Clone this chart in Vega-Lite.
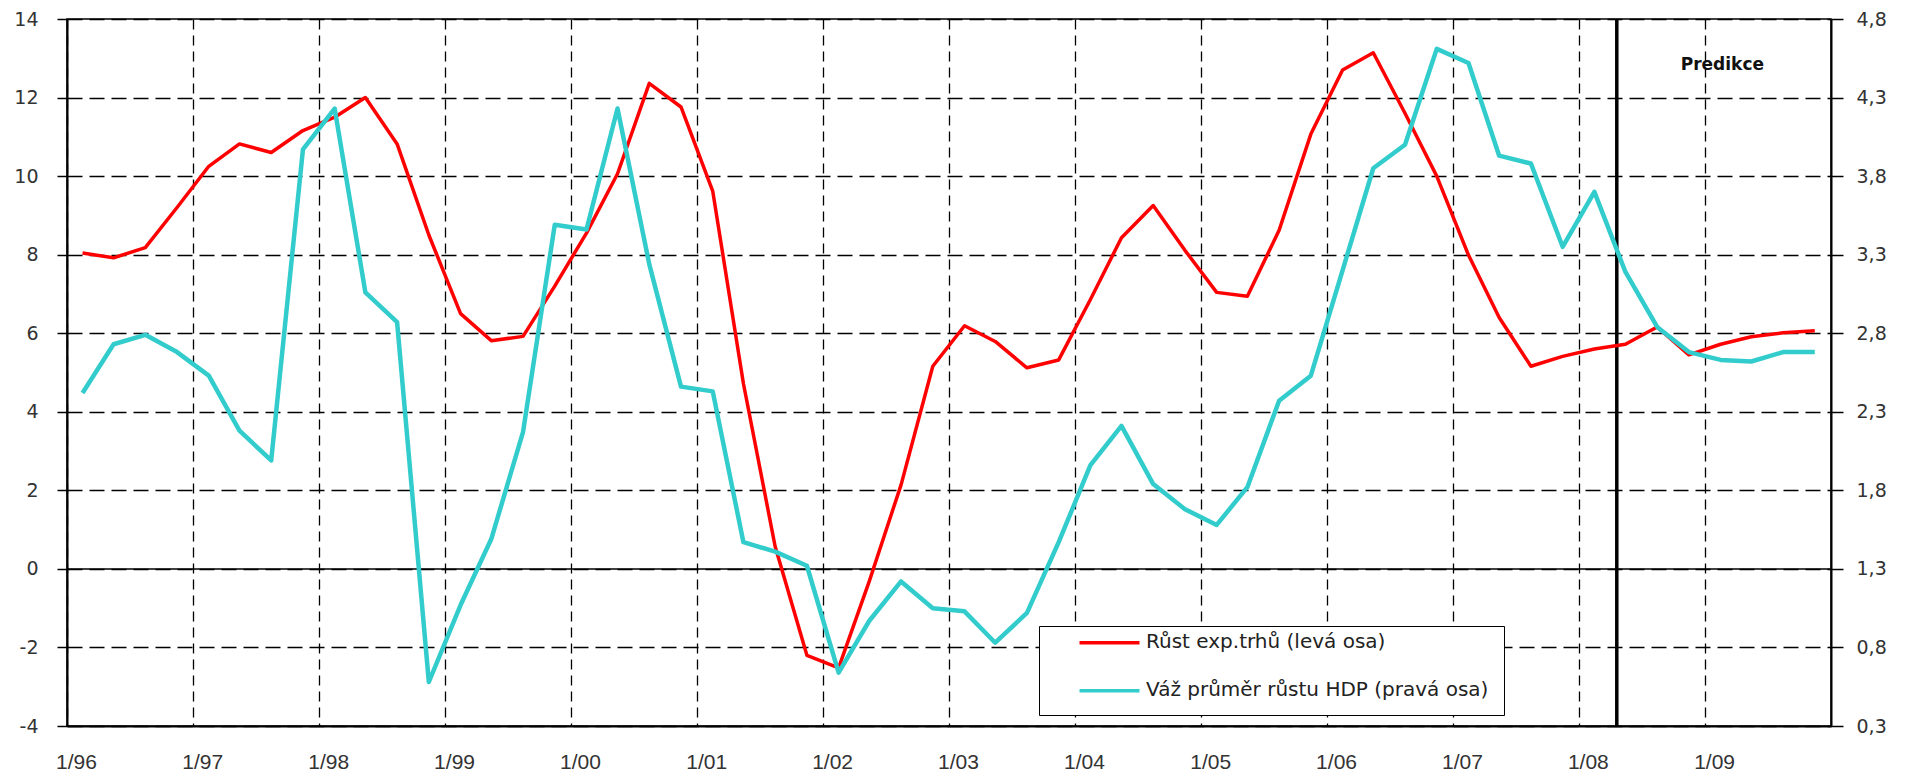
{
  "$schema": "https://vega.github.io/schema/vega-lite/v6.json",
  "width": 1764,
  "height": 707,
  "autosize": {"type": "none"},
  "padding": {"left": 67, "top": 19, "right": 79, "bottom": 48},
  "background": "white",
  "config": {
    "view": {"stroke": "black", "strokeWidth": 1.5},
    "font": "DejaVu Sans"
  },
  "data": {
    "values": [
      {"date": "1996-02-15", "exp": 8.04, "hdp": 2.42},
      {"date": "1996-05-15", "exp": 7.92, "hdp": 2.73},
      {"date": "1996-08-15", "exp": 8.18, "hdp": 2.79},
      {"date": "1996-11-15", "exp": 9.2, "hdp": 2.68},
      {"date": "1997-02-15", "exp": 10.25, "hdp": 2.53},
      {"date": "1997-05-15", "exp": 10.82, "hdp": 2.18},
      {"date": "1997-08-15", "exp": 10.6, "hdp": 1.99},
      {"date": "1997-11-15", "exp": 11.16, "hdp": 3.97},
      {"date": "1998-02-15", "exp": 11.5, "hdp": 4.23},
      {"date": "1998-05-15", "exp": 12.0, "hdp": 3.06},
      {"date": "1998-08-15", "exp": 10.82, "hdp": 2.87},
      {"date": "1998-11-15", "exp": 8.5, "hdp": 0.58},
      {"date": "1999-02-15", "exp": 6.5, "hdp": 1.07},
      {"date": "1999-05-15", "exp": 5.81, "hdp": 1.49},
      {"date": "1999-08-15", "exp": 5.92, "hdp": 2.17},
      {"date": "1999-11-15", "exp": 7.2, "hdp": 3.49},
      {"date": "2000-02-15", "exp": 8.55, "hdp": 3.46},
      {"date": "2000-05-15", "exp": 10.06, "hdp": 4.23},
      {"date": "2000-08-15", "exp": 12.36, "hdp": 3.24},
      {"date": "2000-11-15", "exp": 11.76, "hdp": 2.46},
      {"date": "2001-02-15", "exp": 9.62, "hdp": 2.43},
      {"date": "2001-05-15", "exp": 4.72, "hdp": 1.47},
      {"date": "2001-08-15", "exp": 0.57, "hdp": 1.41},
      {"date": "2001-11-15", "exp": -2.2, "hdp": 1.32},
      {"date": "2002-02-15", "exp": -2.52, "hdp": 0.64},
      {"date": "2002-05-15", "exp": -0.31, "hdp": 0.97},
      {"date": "2002-08-15", "exp": 2.14, "hdp": 1.22},
      {"date": "2002-11-15", "exp": 5.16, "hdp": 1.05},
      {"date": "2003-02-15", "exp": 6.19, "hdp": 1.03},
      {"date": "2003-05-15", "exp": 5.79, "hdp": 0.83},
      {"date": "2003-08-15", "exp": 5.12, "hdp": 1.02},
      {"date": "2003-11-15", "exp": 5.32, "hdp": 1.47},
      {"date": "2004-02-15", "exp": 6.86, "hdp": 1.96},
      {"date": "2004-05-15", "exp": 8.43, "hdp": 2.21},
      {"date": "2004-08-15", "exp": 9.25, "hdp": 1.84},
      {"date": "2004-11-15", "exp": 8.11, "hdp": 1.68},
      {"date": "2005-02-15", "exp": 7.04, "hdp": 1.58},
      {"date": "2005-05-15", "exp": 6.94, "hdp": 1.82},
      {"date": "2005-08-15", "exp": 8.62, "hdp": 2.37},
      {"date": "2005-11-15", "exp": 11.07, "hdp": 2.53},
      {"date": "2006-02-15", "exp": 12.7, "hdp": 3.2},
      {"date": "2006-05-15", "exp": 13.14, "hdp": 3.85},
      {"date": "2006-08-15", "exp": 11.6, "hdp": 4.0},
      {"date": "2006-11-15", "exp": 10.0, "hdp": 4.61},
      {"date": "2007-02-15", "exp": 7.99, "hdp": 4.52},
      {"date": "2007-05-15", "exp": 6.4, "hdp": 3.93},
      {"date": "2007-08-15", "exp": 5.16, "hdp": 3.88},
      {"date": "2007-11-15", "exp": 5.41, "hdp": 3.35},
      {"date": "2008-02-15", "exp": 5.6, "hdp": 3.7},
      {"date": "2008-05-15", "exp": 5.72, "hdp": 3.19},
      {"date": "2008-08-15", "exp": 6.16, "hdp": 2.84},
      {"date": "2008-11-15", "exp": 5.45, "hdp": 2.68},
      {"date": "2009-02-15", "exp": 5.72, "hdp": 2.63},
      {"date": "2009-05-15", "exp": 5.91, "hdp": 2.62},
      {"date": "2009-08-15", "exp": 6.01, "hdp": 2.68},
      {"date": "2009-11-15", "exp": 6.06, "hdp": 2.68}
    ]
  },
  "layer": [
    {
      "layer": [
        {
          "data": {"values": [{}]},
          "mark": {"type": "rule", "color": "black", "strokeWidth": 1.5},
          "encoding": {"y": {"datum": 0, "type": "quantitative"}}
        },
        {
          "data": {"values": [{}]},
          "mark": {"type": "rule", "color": "black", "strokeWidth": 3.5},
          "encoding": {"x": {"datum": {"year": 2008, "month": 4, "date": 20, "utc": true}, "type": "temporal"}}
        },
        {
          "data": {"values": [{}]},
          "mark": {"type": "text", "text": "Predikce", "font": "DejaVu Sans", "fontWeight": "bold", "fontSize": 17, "color": "#111"},
          "encoding": {
            "x": {"datum": {"year": 2009, "month": 2, "date": 20, "utc": true}, "type": "temporal"},
            "y": {"datum": 12.83, "type": "quantitative"}
          }
        },
        {
          "mark": {"type": "line", "strokeWidth": 3.5, "strokeJoin": "round"},
          "encoding": {
            "x": {
              "field": "date",
              "type": "temporal",
              "scale": {"type": "utc", "domain": [{"year": 1996, "month": 1, "date": 1, "utc": true}, {"year": 2010, "month": 1, "date": 1, "utc": true}]},
              "axis": {
                "title": null,
                "values": [
                  {"year": 1996, "month": 1, "date": 1, "utc": true},
                  {"year": 1997, "month": 1, "date": 1, "utc": true},
                  {"year": 1998, "month": 1, "date": 1, "utc": true},
                  {"year": 1999, "month": 1, "date": 1, "utc": true},
                  {"year": 2000, "month": 1, "date": 1, "utc": true},
                  {"year": 2001, "month": 1, "date": 1, "utc": true},
                  {"year": 2002, "month": 1, "date": 1, "utc": true},
                  {"year": 2003, "month": 1, "date": 1, "utc": true},
                  {"year": 2004, "month": 1, "date": 1, "utc": true},
                  {"year": 2005, "month": 1, "date": 1, "utc": true},
                  {"year": 2006, "month": 1, "date": 1, "utc": true},
                  {"year": 2007, "month": 1, "date": 1, "utc": true},
                  {"year": 2008, "month": 1, "date": 1, "utc": true},
                  {"year": 2009, "month": 1, "date": 1, "utc": true}
                ],
                "grid": true,
                "gridColor": "black",
                "gridDash": [10, 6],
                "gridWidth": 1.3,
                "ticks": false,
                "domainColor": "black",
                "domainWidth": 2,
                "labelFont": "Liberation Sans",
                "labelFontSize": 21,
                "labelColor": "#333",
                "labelPadding": 25,
                "labelOffset": 9,
                "labelOverlap": false,
                "labelFlush": false,
                "labelExpr": "'1/' + utcFormat(datum.value, '%y')"
              }
            },
            "y": {
              "field": "exp",
              "type": "quantitative",
              "scale": {"domain": [-4, 14], "nice": false, "zero": false},
              "axis": {
                "title": null,
                "values": [-4, -2, 0, 2, 4, 6, 8, 10, 12, 14],
                "grid": true,
                "gridColor": "black",
                "gridDash": [15, 7],
                "gridWidth": 1.3,
                "domainColor": "black",
                "domainWidth": 2,
                "tickColor": "black",
                "tickSize": 10,
                "tickWidth": 1.5,
                "labelFont": "DejaVu Sans",
                "labelFontSize": 19,
                "labelColor": "#333",
                "labelPadding": 19,
                "labelExpr": "datum.value < 0 ? '-' + format(-datum.value, 'd') : format(datum.value, 'd')"
              }
            },
            "color": {
              "datum": "Růst exp.trhů (levá osa)",
              "type": "nominal",
              "scale": {
                "domain": ["Růst exp.trhů (levá osa)", "Váž průměr růstu HDP (pravá osa)"],
                "range": ["#ff0000", "#33cccc"]
              },
              "legend": {
                "orient": "none",
                "legendX": 972,
                "legendY": 607,
                "title": null,
                "symbolType": "stroke",
                "symbolSize": 3600,
                "symbolStrokeWidth": 5,
                "clipHeight": 2,
                "rowPadding": 28,
                "labelFont": "DejaVu Sans",
                "labelFontSize": 20,
                "labelColor": "#222",
                "labelOffset": 4,
                "labelLimit": 0,
                "padding": 15,
                "symbolOffset": 23,
                "strokeColor": "black",
                "fillColor": "white"
              }
            }
          }
        }
      ]
    },
    {
      "mark": {"type": "line", "strokeWidth": 4.5, "strokeJoin": "round"},
      "encoding": {
        "x": {"field": "date", "type": "temporal"},
        "y": {
          "field": "hdp",
          "type": "quantitative",
          "scale": {"domain": [0.3, 4.8], "nice": false, "zero": false},
          "axis": {
            "orient": "right",
            "title": null,
            "values": [0.3, 0.8, 1.3, 1.8, 2.3, 2.8, 3.3, 3.8, 4.3, 4.8],
            "grid": false,
            "domainColor": "black",
            "domainWidth": 2,
            "tickColor": "black",
            "tickSize": 12,
            "tickWidth": 1.5,
            "labelFont": "DejaVu Sans",
            "labelFontSize": 19,
            "labelColor": "#333",
            "labelPadding": 13,
            "labelExpr": "replace(format(datum.value, '.1f'), '.', ',')"
          }
        },
        "color": {"datum": "Váž průměr růstu HDP (pravá osa)", "type": "nominal"}
      }
    }
  ],
  "resolve": {"scale": {"y": "independent"}}
}
